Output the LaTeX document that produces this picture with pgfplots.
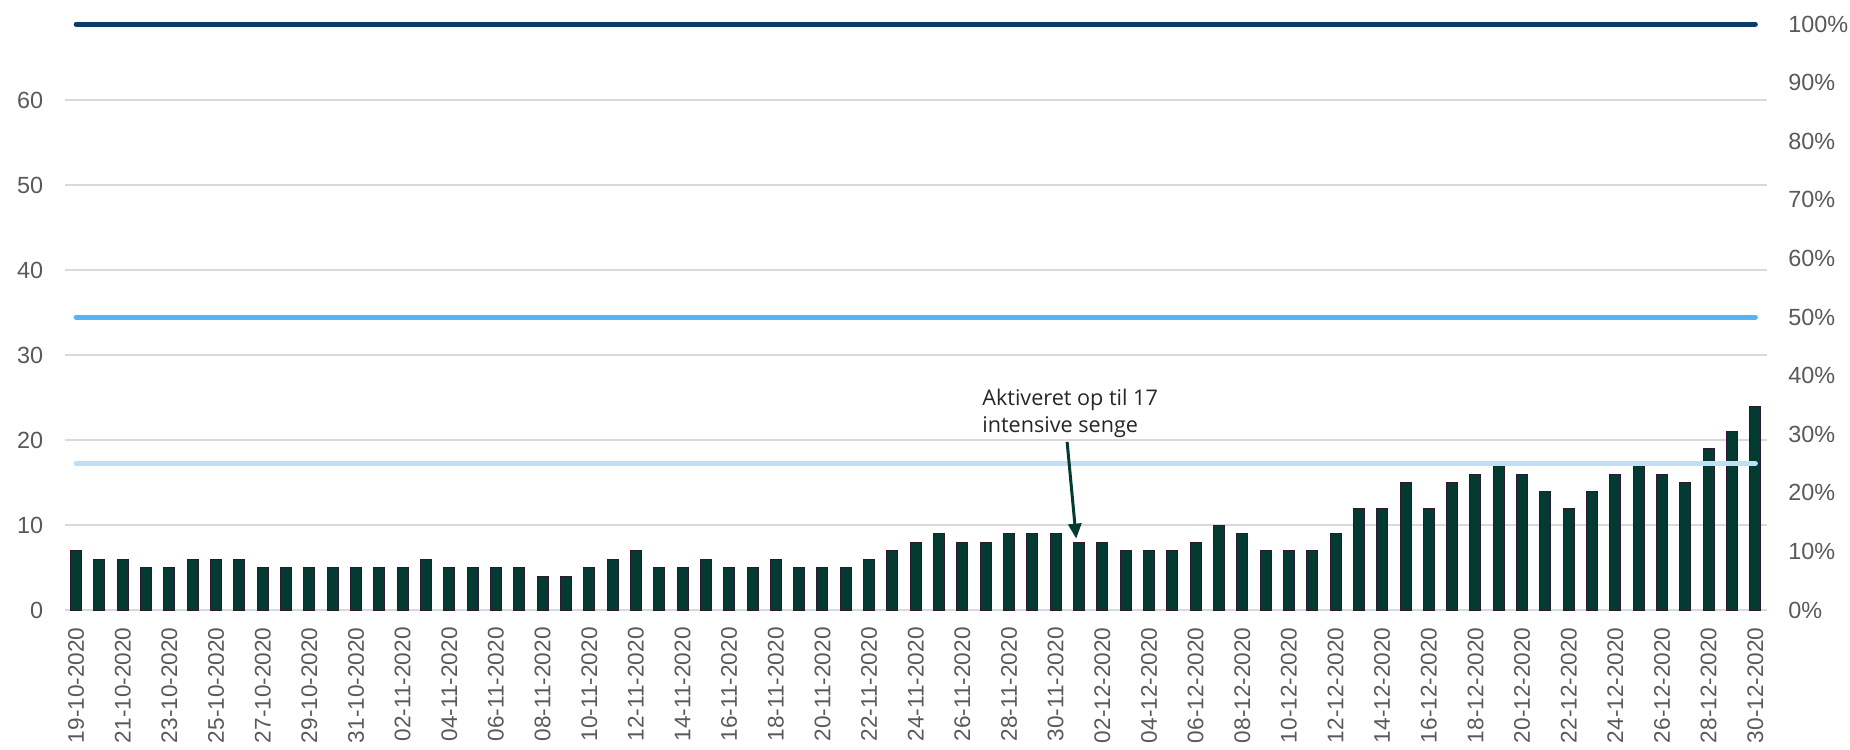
\documentclass[border=0pt]{standalone}
\usepackage{pgfplots}
\pgfplotsset{compat=1.18}
\usepackage{pgfplotstable}
\usepackage{fontspec}
\setmainfont{Liberation Sans}
\newfontfamily\annfont{Open Sans}
\usetikzlibrary{arrows.meta}
\definecolor{barcol}{HTML}{033B33}
\definecolor{baredge}{HTML}{2E1A30}
\definecolor{navy}{HTML}{0B3C6E}
\definecolor{midblue}{HTML}{55B3F6}
\definecolor{lightblue}{HTML}{BDE0F8}
\definecolor{gridcol}{HTML}{D9D9D9}
\definecolor{txt}{HTML}{595959}
\pgfplotstableread{
idx val
0 7
1 6
2 6
3 5
4 5
5 6
6 6
7 6
8 5
9 5
10 5
11 5
12 5
13 5
14 5
15 6
16 5
17 5
18 5
19 5
20 4
21 4
22 5
23 6
24 7
25 5
26 5
27 6
28 5
29 5
30 6
31 5
32 5
33 5
34 6
35 7
36 8
37 9
38 8
39 8
40 9
41 9
42 9
43 8
44 8
45 7
46 7
47 7
48 8
49 10
50 9
51 7
52 7
53 7
54 9
55 12
56 12
57 15
58 12
59 15
60 16
61 17
62 16
63 14
64 12
65 14
66 16
67 17
68 16
69 15
70 19
71 21
72 24
}\datatable
\begin{document}
\begin{tikzpicture}
\begin{axis}[
  name=ax,
  scale only axis,
  width=851.25bp, height=293bp,
  xmin=-0.5, xmax=72.5,
  ymin=0, ymax=69,
  axis line style={draw=none},
  major tick length=0pt,
  ytick={0,10,...,60},
  ymajorgrids,
  grid style={gridcol, line width=1bp},
  xtick={0,2,...,72},
  xticklabels={19-10-2020,21-10-2020,23-10-2020,25-10-2020,27-10-2020,29-10-2020,31-10-2020,02-11-2020,04-11-2020,06-11-2020,08-11-2020,10-11-2020,12-11-2020,14-11-2020,16-11-2020,18-11-2020,20-11-2020,22-11-2020,24-11-2020,26-11-2020,28-11-2020,30-11-2020,02-12-2020,04-12-2020,06-12-2020,08-12-2020,10-12-2020,12-12-2020,14-12-2020,16-12-2020,18-12-2020,20-12-2020,22-12-2020,24-12-2020,26-12-2020,28-12-2020,30-12-2020},
  xticklabel style={rotate=90, anchor=east, inner xsep=8.5bp, inner ysep=0pt, font=\fontsize{11.3bp}{13bp}\selectfont, text=txt},
  yticklabel style={anchor=east, inner sep=0pt, xshift=-10.5bp, font=\fontsize{11.7bp}{14bp}\selectfont, text=txt},
  /pgf/number format/assume math mode=true,
  clip=false,
]
\addplot[ybar, bar width=5.5bp, fill=barcol, draw=baredge, line width=0.5bp] table[x=idx, y=val] {\datatable};
\addplot[navy, line width=2.5bp, line cap=round] coordinates {(0,69) (72,69)};
\addplot[midblue, line width=2.5bp, line cap=round] coordinates {(0,34.5) (72,34.5)};
\addplot[lightblue, line width=2.5bp, line cap=round] coordinates {(0,17.25) (72,17.25)};
\node[anchor=north west, inner sep=0pt, align=left, font=\annfont\fontsize{10.8bp}{13.5bp}\selectfont, text=black!85] at (axis cs:38.84,26.1) {Aktiveret op til 17\\intensive senge};
\draw[barcol, line width=1.5bp, -{Triangle[width=6.5bp,length=7.5bp]}] (axis cs:42.49,19.8) -- (axis cs:42.88,8.4);
\end{axis}
\begin{axis}[
  scale only axis,
  width=851.25bp, height=293bp,
  xmin=-0.5, xmax=72.5,
  ymin=0, ymax=100,
  hide x axis,
  axis y line*=right,
  axis line style={draw=none},
  major tick length=0pt,
  ytick={0,10,...,100},
  yticklabel={\pgfmathprintnumber{\tick}\%},
  yticklabel style={anchor=west, inner sep=0pt, xshift=10.5bp, font=\fontsize{11.7bp}{14bp}\selectfont, text=txt},
  /pgf/number format/assume math mode=true,
]
\addplot[draw=none] coordinates {(0,0) (72,100)};
\end{axis}
\pgfresetboundingbox
\path[use as bounding box] ([shift={(-32.25bp,-69.5bp)}]ax.south west) rectangle ([shift={(41.5bp,12bp)}]ax.north east);
\end{tikzpicture}
\end{document}
